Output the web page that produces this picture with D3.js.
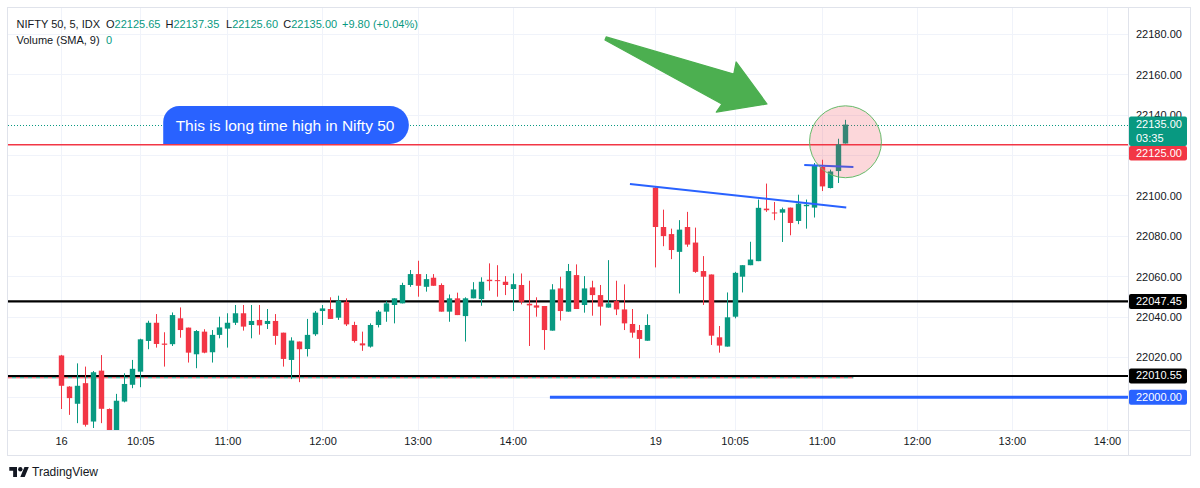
<!DOCTYPE html>
<html>
<head>
<meta charset="utf-8">
<script src="https://cdn.jsdelivr.net/npm/d3@7"></script>
<style>
  html, body { margin: 0; padding: 0; background: #ffffff; }
  svg { display: block; font-family: "Liberation Sans", Arial, sans-serif; }
</style>
</head>
<body>
<svg id="chart" width="1200" height="488"></svg>
<script>
// ---------------- DATA ----------------
// 5-minute bars: NIFTY 50, 16th (09:15-15:25) and 19th (09:15-11:15)
const opens = [
  22020.7,22005.3,21996.8,22007.0,21988.0,22013.2,21994.2,21982.0,21997.9,22006.2,
  22012.7,22027.9,22036.9,22026.6,22026.3,22039.1,22034.5,22021.3,22032.5,22022.3,
  22030.9,22034.0,22036.9,22041.6,22035.8,22038.3,22036.3,22037.8,22032.0,22018.5,
  22027.6,22023.9,22031.2,22042.7,22043.7,22039.4,22047.3,22035.8,22026.7,22025.1,
  22035.8,22042.4,22045.7,22046.5,22055.6,22061.0,22054.7,22059.2,22055.6,22042.4,
  22049.0,22040.2,22049.0,22048.6,22058.2,22058.0,22057.2,22053.6,22055.6,22046.3,
  22045.5,22045.2,22033.0,22053.9,22042.4,22060.5,22045.7,22054.4,22050.6,22044.4,
  22047.6,22043.5,22036.3,22033.3,22028.0,
  22103.8,22084.3,22080.8,22072.0,22084.3,22076.6,22062.5,22060.8,22029.7,22025.1,
  22039.9,22059.7,22065.4,22067.4,22093.4,22091.5,22091.4,22093.9,22087.3,22094.6,
  22093.9,22114.0,22103.6,22112.0,22125.65
];
const highs = [
  22021.0,22005.5,22016.8,22015.2,22013.0,22020.9,21994.5,22001.7,22011.9,22018.5,
  22029.0,22037.9,22041.2,22032.2,22042.0,22044.5,22034.5,22033.3,22033.7,22033.3,
  22039.9,22041.6,22045.7,22045.7,22045.7,22045.7,22043.7,22041.2,22032.0,22029.7,
  22027.6,22038.8,22042.7,22045.7,22049.5,22050.3,22049.0,22037.4,22032.5,22036.6,
  22043.2,22047.6,22049.0,22056.7,22063.0,22067.6,22061.0,22061.0,22056.4,22050.9,
  22051.8,22049.5,22057.0,22059.4,22066.3,22065.4,22060.0,22061.3,22061.3,22057.7,
  22049.5,22045.2,22056.0,22059.7,22066.0,22065.8,22060.0,22057.7,22055.6,22067.9,
  22057.7,22055.9,22043.7,22035.8,22041.1,
  22104.1,22092.9,22083.5,22087.7,22091.8,22084.0,22069.9,22060.8,22035.3,22051.9,
  22062.1,22065.4,22077.0,22097.9,22105.8,22096.7,22093.9,22093.9,22100.3,22097.9,
  22116.0,22117.6,22112.7,22128.0,22137.35
];
const lows = [
  21994.2,21991.3,21987.2,21985.5,21984.8,21987.2,21980.0,21980.0,21997.5,22004.5,
  22005.0,22023.8,22024.6,22015.2,22025.4,22029.5,22017.2,22014.4,22021.8,22017.2,
  22029.2,22024.6,22035.8,22033.0,22029.2,22031.0,22033.8,22026.0,22015.2,22009.0,
  22007.5,22020.2,22030.4,22035.8,22038.8,22038.3,22035.3,22027.1,22023.0,22024.6,
  22034.6,22037.4,22036.6,22046.5,22054.7,22049.8,22052.3,22055.2,22042.4,22037.4,
  22040.7,22027.6,22049.0,22045.3,22052.8,22049.8,22050.6,22042.7,22046.0,22025.4,
  22039.9,22023.5,22033.0,22038.0,22042.4,22043.7,22041.9,22040.4,22035.5,22044.4,
  22040.7,22033.3,22029.5,22019.3,22028.0,
  22064.3,22074.8,22068.4,22051.4,22074.5,22061.6,22045.7,22025.9,22022.1,22025.1,
  22039.1,22051.9,22065.4,22067.4,22091.8,22087.7,22076.9,22080.2,22085.7,22083.5,
  22089.0,22102.1,22103.4,22106.1,22125.60
];
const closes = [
  22005.7,21999.6,22005.7,21986.4,22012.4,21994.3,21983.0,21998.3,22006.6,22014.1,
  22028.7,22036.9,22026.4,22026.0,22040.7,22033.3,22022.1,22032.8,22022.1,22030.9,
  22034.6,22036.9,22041.6,22035.0,22037.8,22035.6,22037.8,22030.4,22019.0,22028.1,
  22023.8,22030.9,22041.9,22044.0,22038.8,22047.8,22036.1,22027.9,22025.7,22035.8,
  22042.4,22046.5,22049.0,22055.6,22061.0,22055.2,22058.5,22055.2,22042.4,22049.0,
  22040.7,22049.0,22053.4,22057.2,22057.5,22057.5,22055.6,22056.0,22047.3,22045.5,
  22044.4,22033.3,22053.4,22042.7,22062.5,22043.7,22053.9,22050.6,22044.9,22046.5,
  22043.5,22036.6,22032.0,22028.9,22035.8,
  22084.3,22079.8,22072.9,22083.0,22075.6,22062.1,22059.7,22030.5,22025.6,22039.6,
  22061.6,22065.4,22068.2,22093.8,22092.6,22091.1,22093.1,22086.3,22095.9,22095.3,
  22114.8,22104.4,22111.8,22125.2,22135.00
];

// time axis (bar-slot index -> label)
const timeTickIndex = [0, 10, 21, 33, 45, 57, 75, 85, 96, 108, 120, 132];
const timeTickLabels = ["16","10:05","11:00","12:00","13:00","14:00","19","10:05","11:00","12:00","13:00","14:00"];
// price axis
const priceTicks = [22000, 22020, 22040, 22060, 22080, 22100, 22120, 22140, 22160, 22180];

// horizontal levels
const levelValues = [22125.00, 22047.45, 22010.55, 22000.00];
const levelLabels = ["22125.00", "22047.45", "22010.55", "22000.00"];
const lastPrice = 22135.00;
const lastPriceLabel = "22135.00";
const countdownLabel = "03:35";

// drawings, as [bar index, price]
const trendLine = [[71.8, 22105.6], [99.1, 22094.0]];
const breakoutLine = [[93.8, 22115.0], [100.0, 22114.0]];
const highlightCircle = { center: [99.0, 22126.5], radiusPrice: 17.8 };
const arrowPoints = [[68.8, 22178.4], [84.9, 22160.0], [85.2, 22166.0], [89.1, 22145.2],
                     [82.7, 22141.2], [83.4, 22145.2], [68.65, 22176.9]];
const calloutBox = { x0: 12.9, x1: 43.9, top: 22144.2, bottom: 22125.4 };
const calloutText = "This is long time high in Nifty 50";
const supportStart = 61.7;   // bar index where the 22000 line starts
const prevCloseEnd = 100;    // bar index where dashed line ends

const headerSymbol = "NIFTY 50, 5, IDX";
const headerO = "22125.65", headerH = "22137.35", headerL = "22125.60", headerC = "22135.00";
const headerChange = "+9.80 (+0.04%)";
const volumeTitle = "Volume (SMA, 9)";
const volumeValue = "0";

// ---------------- DRAW ----------------
const UP = "#089981", DOWN = "#F23645", BLUE = "#2962FF", GRID = "#f0f3fa", TEXT = "#131722";
const svg = d3.select("#chart");
const plot = { left: 8, right: 1128, top: 8, bottom: 430 };

const x = d3.scaleLinear().domain([0, 132]).range([61, 61 + 132 * 7.924]);
const y = d3.scaleLinear().domain([22000, 22180]).range([397.3, 33.7]);

svg.append("defs").append("clipPath").attr("id", "plotClip")
  .append("rect").attr("x", plot.left).attr("y", plot.top)
  .attr("width", plot.right - plot.left).attr("height", plot.bottom - plot.top);

// grid
const grid = svg.append("g");
grid.selectAll("line.h").data(priceTicks).join("line")
  .attr("x1", plot.left).attr("x2", plot.right)
  .attr("y1", d => Math.round(y(d)) + 0.5).attr("y2", d => Math.round(y(d)) + 0.5)
  .attr("stroke", GRID).attr("stroke-width", 1);
grid.selectAll("line.v").data(timeTickIndex).join("line")
  .attr("y1", plot.top).attr("y2", plot.bottom)
  .attr("x1", d => Math.round(x(d)) + 0.5).attr("x2", d => Math.round(x(d)) + 0.5)
  .attr("stroke", GRID).attr("stroke-width", 1);

// frame
svg.append("rect").attr("x", 7.5).attr("y", 7.5).attr("width", 1183).attr("height", 448)
  .attr("fill", "none").attr("stroke", "#e0e3eb");
svg.append("line").attr("x1", 7.5).attr("x2", 1190.5).attr("y1", 430.5).attr("y2", 430.5).attr("stroke", "#e0e3eb");
svg.append("line").attr("x1", 1128.5).attr("x2", 1128.5).attr("y1", 7.5).attr("y2", 455.5).attr("stroke", "#e0e3eb");

const layer = svg.append("g").attr("clip-path", "url(#plotClip)");

// previous-close dashed line (under the black level)
const dashY = y(22010.55) + 1.8;
layer.append("line").attr("x1", plot.left).attr("x2", x(prevCloseEnd)).attr("y1", dashY).attr("y2", dashY)
  .attr("stroke", DOWN).attr("stroke-width", 1).attr("stroke-dasharray", "4,4");
layer.append("line").attr("x1", plot.left + 4).attr("x2", x(prevCloseEnd)).attr("y1", dashY).attr("y2", dashY)
  .attr("stroke", UP).attr("stroke-width", 1).attr("stroke-dasharray", "4,4");

// last price dotted line
layer.append("line").attr("x1", plot.left).attr("x2", plot.right)
  .attr("y1", Math.round(y(lastPrice)) + 0.5).attr("y2", Math.round(y(lastPrice)) + 0.5)
  .attr("stroke", UP).attr("stroke-width", 1).attr("stroke-dasharray", "1,2");

// horizontal levels
layer.append("line").attr("x1", plot.left).attr("x2", plot.right)
  .attr("y1", y(levelValues[0])).attr("y2", y(levelValues[0]))
  .attr("stroke", DOWN).attr("stroke-width", 1.6);
[levelValues[1], levelValues[2]].forEach(v => {
  layer.append("line").attr("x1", plot.left).attr("x2", plot.right)
    .attr("y1", y(v)).attr("y2", y(v)).attr("stroke", "#000000").attr("stroke-width", 2.2);
});
layer.append("line").attr("x1", x(supportStart)).attr("x2", plot.right)
  .attr("y1", y(levelValues[3])).attr("y2", y(levelValues[3]))
  .attr("stroke", BLUE).attr("stroke-width", 3);

// candles
const candles = d3.range(opens.length).map(i => ({ i, o: opens[i], h: highs[i], l: lows[i], c: closes[i] }));
const bodyW = 5.4;
const cg = layer.append("g");
cg.selectAll("line.wick").data(candles).join("line")
  .attr("x1", d => Math.round(x(d.i)) + 0.5).attr("x2", d => Math.round(x(d.i)) + 0.5)
  .attr("y1", d => y(d.h)).attr("y2", d => y(d.l))
  .attr("stroke", d => d.c >= d.o ? UP : DOWN).attr("stroke-width", 1);
cg.selectAll("rect.body").data(candles).join("rect")
  .attr("x", d => Math.round(x(d.i)) + 0.5 - bodyW / 2)
  .attr("width", bodyW)
  .attr("y", d => y(Math.max(d.o, d.c)))
  .attr("height", d => Math.max(1, Math.abs(y(d.o) - y(d.c))))
  .attr("fill", d => d.c >= d.o ? UP : DOWN);

// trend lines
const line = d3.line().x(d => x(d[0])).y(d => y(d[1]));
layer.append("path").attr("d", line(trendLine)).attr("stroke", BLUE).attr("stroke-width", 2).attr("fill", "none");
layer.append("path").attr("d", line(breakoutLine)).attr("stroke", BLUE).attr("stroke-width", 2).attr("fill", "none");

// highlight circle
const cx = x(highlightCircle.center[0]), cy = y(highlightCircle.center[1]);
const cr = y(highlightCircle.center[1] - highlightCircle.radiusPrice) - cy;
layer.append("circle").attr("cx", cx).attr("cy", cy).attr("r", cr)
  .attr("fill", "rgba(242,54,69,0.2)").attr("stroke", "#66bb6a").attr("stroke-width", 1);

// arrow
layer.append("path").attr("d", d3.line().x(d => x(d[0])).y(d => y(d[1])).curve(d3.curveLinearClosed)(arrowPoints))
  .attr("fill", "#4caf50").attr("stroke", "#4caf50").attr("stroke-width", 1.2).attr("stroke-linejoin", "round");

// callout
const bx0 = x(calloutBox.x0), bx1 = x(calloutBox.x1), by0 = y(calloutBox.top), by1 = y(calloutBox.bottom);
const bh = by1 - by0, rr = bh / 2, rtl = 16;
const p = d3.path();
p.moveTo(bx0, by1);
p.lineTo(bx0, by0 + rtl);
p.arcTo(bx0, by0, bx0 + rtl, by0, rtl);
p.lineTo(bx1 - rr, by0);
p.arcTo(bx1, by0, bx1, by0 + rr, rr);
p.arcTo(bx1, by1, bx1 - rr, by1, rr);
p.closePath();
svg.append("path").attr("d", p.toString()).attr("fill", BLUE);
svg.append("text").attr("x", (bx0 + bx1) / 2 - 1).attr("y", (by0 + by1) / 2 + 5.5)
  .attr("text-anchor", "middle").attr("fill", "#ffffff").attr("font-size", 15.5)
  .text(calloutText);

// time axis
const xAxis = d3.axisBottom(x).tickValues(timeTickIndex).tickFormat((d, i) => timeTickLabels[i]).tickSize(0).tickPadding(0);
const xg = svg.append("g").attr("transform", "translate(0,445)").call(xAxis);
xg.select(".domain").remove();
xg.selectAll("text").attr("fill", TEXT).attr("font-size", 11).attr("dy", 0)
  .attr("font-family", "Liberation Sans, Arial, sans-serif");

// price axis
const yAxis = d3.axisRight(y).tickValues(priceTicks).tickFormat(d3.format(".2f")).tickSize(0).tickPadding(0);
const yg = svg.append("g").attr("transform", "translate(1136,0)").call(yAxis);
yg.select(".domain").remove();
yg.selectAll("text").attr("fill", TEXT).attr("font-size", 11).attr("dy", "0.36em")
  .attr("font-family", "Liberation Sans, Arial, sans-serif");

// price labels on axis
function axisBox(top, h, fill, lines) {
  svg.append("rect").attr("x", 1129).attr("y", top).attr("width", 58).attr("height", h).attr("rx", 2).attr("fill", fill);
  lines.forEach((t, k) => {
    svg.append("text").attr("x", 1136).attr("y", top + 11 + k * 14).attr("fill", "#ffffff")
      .attr("font-size", 11).text(t);
  });
}
const lpTop = y(lastPrice) - 8;
axisBox(lpTop, 29.5, UP, [lastPriceLabel, countdownLabel]);
axisBox(lpTop + 29.5, 14.5, DOWN, [levelLabels[0]]);
axisBox(y(levelValues[1]) - 7.5, 15, "#000000", [levelLabels[1]]);
axisBox(y(levelValues[2]) - 7.5, 15, "#000000", [levelLabels[2]]);
axisBox(y(levelValues[3]) - 7.5, 15, BLUE, [levelLabels[3]]);

// header legend
const hdr = svg.append("text").attr("y", 27.5).attr("font-size", 11).attr("fill", TEXT);
hdr.append("tspan").attr("x", 16.5).text(headerSymbol);
[["O", headerO, 106], ["H", headerH, 165.5], ["L", headerL, 226], ["C", headerC, 283.3]].forEach(([k, v, px]) => {
  hdr.append("tspan").attr("x", px).attr("fill", TEXT).text(k);
  hdr.append("tspan").attr("fill", UP).text(v);
});
hdr.append("tspan").attr("x", 342).attr("fill", UP).text(headerChange);
const hdr2 = svg.append("text").attr("y", 44).attr("font-size", 11).attr("fill", TEXT);
hdr2.append("tspan").attr("x", 16.5).text(volumeTitle);
hdr2.append("tspan").attr("x", 106).attr("fill", UP).text(volumeValue);

// TradingView logo
const logo = svg.append("g").attr("transform", "translate(9.3,464.8) scale(0.55)").attr("fill", TEXT);
logo.append("path").attr("d", "M14 22H7V11H0V4h14v18zM28 22h-8l7.5-18h8L28 22z");
logo.append("circle").attr("cx", 20).attr("cy", 8).attr("r", 4);
svg.append("text").attr("x", 32).attr("y", 476).attr("font-size", 12).attr("fill", TEXT).text("TradingView");
</script>
</body>
</html>
